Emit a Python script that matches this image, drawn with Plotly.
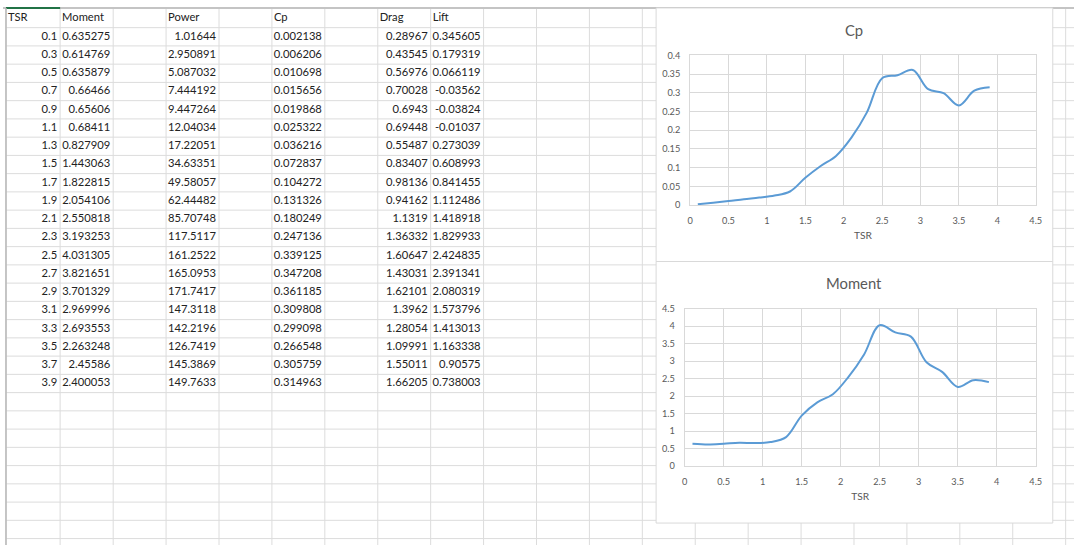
import plotly.graph_objects as go

# ---- data -------------------------------------------------------------
tsr = [0.1, 0.3, 0.5, 0.7, 0.9, 1.1, 1.3, 1.5, 1.7, 1.9,
       2.1, 2.3, 2.5, 2.7, 2.9, 3.1, 3.3, 3.5, 3.7, 3.9]
moment = [0.635275, 0.614769, 0.635879, 0.66466, 0.65606, 0.68411, 0.827909,
          1.443063, 1.822815, 2.054106, 2.550818, 3.193253, 4.031305, 3.821651,
          3.701329, 2.969996, 2.693553, 2.263248, 2.45586, 2.400053]
power = [1.01644, 2.950891, 5.087032, 7.444192, 9.447264, 12.04034, 17.22051,
         34.63351, 49.58057, 62.44482, 85.70748, 117.5117, 161.2522, 165.0953,
         171.7417, 147.3118, 142.2196, 126.7419, 145.3869, 149.7633]
cp = [0.002138, 0.006206, 0.010698, 0.015656, 0.019868, 0.025322, 0.036216,
      0.072837, 0.104272, 0.131326, 0.180249, 0.247136, 0.339125, 0.347208,
      0.361185, 0.309808, 0.299098, 0.266548, 0.305759, 0.314963]
drag = [0.28967, 0.43545, 0.56976, 0.70028, 0.6943, 0.69448, 0.55487, 0.83407,
        0.98136, 0.94162, 1.1319, 1.36332, 1.60647, 1.43031, 1.62101, 1.3962,
        1.28054, 1.09991, 1.55011, 1.66205]
lift = [0.345605, 0.179319, 0.066119, -0.03562, -0.03824, -0.01037, 0.273039,
        0.608993, 0.841455, 1.112486, 1.418918, 1.829933, 2.424835, 2.391341,
        2.080319, 1.573796, 1.413013, 1.163338, 0.90575, 0.738003]
headers = ["TSR", "Moment", "Power", "Cp", "Drag", "Lift"]

# ---- sheet geometry (pixels) ---------------------------------------------
W, H = 1080, 550
col_edges = [3, 57.6] + [111.1 + 53.36 * k for k in range(19)]
row_top, row_h, header_top = 22.1, 18.62, 2
row_edges = [row_top + row_h * k for k in range(29)]
# sheet column index used by each table column
col_index = [0, 1, 3, 5, 7, 8]

FONT = "Lato"
GRID = "#dcdcdc"
BLUE = "#5B9BD5"
GREY_TXT = "#595959"


def fx(x):
    return x / W


def fy(y):
    return 1 - y / H


shapes = []
for x in col_edges:
    shapes.append(dict(type="line", xref="paper", yref="paper", x0=fx(x), x1=fx(x),
                       y0=fy(header_top), y1=0, line=dict(color=GRID, width=1),
                       layer="below"))
for y in row_edges:
    shapes.append(dict(type="line", xref="paper", yref="paper", x0=fx(col_edges[0]), x1=1,
                       y0=fy(y), y1=fy(y), line=dict(color=GRID, width=1),
                       layer="below"))
# sheet top and left borders
shapes.append(dict(type="line", xref="paper", yref="paper", x0=0, x1=1,
                   y0=fy(header_top), y1=fy(header_top),
                   line=dict(color="#c4c4c4", width=2), layer="below"))
shapes.append(dict(type="line", xref="paper", yref="paper",
                   x0=fx(col_edges[0]), x1=fx(col_edges[1]),
                   y0=fy(header_top), y1=fy(header_top),
                   line=dict(color="#217346", width=2), layer="below"))
shapes.append(dict(type="line", xref="paper", yref="paper",
                   x0=fx(col_edges[0]), x1=fx(col_edges[0]), y0=fy(header_top), y1=0,
                   line=dict(color="#b8b8b8", width=1.5), layer="below"))

# chart boxes
chart_boxes = [(658.6, 2, 1058.6, 260.7), (658.6, 260.7, 1058.6, 527.6)]
for (x0, y0, x1, y1) in chart_boxes:
    shapes.append(dict(type="rect", xref="paper", yref="paper",
                       x0=fx(x0), x1=fx(x1), y0=fy(y1), y1=fy(y0),
                       fillcolor="white", line=dict(color="#d9d9d9", width=1),
                       layer="below"))

fig = go.Figure()

# ---- charts ----------------------------------------------------------------
fig.add_trace(go.Scatter(x=tsr, y=cp, mode="lines", xaxis="x", yaxis="y",
                         line=dict(color=BLUE, width=2, shape="spline", smoothing=1),
                         hoverinfo="x+y", showlegend=False))
fig.add_trace(go.Scatter(x=tsr, y=moment, mode="lines", xaxis="x2", yaxis="y2",
                         line=dict(color=BLUE, width=2, shape="spline", smoothing=1),
                         hoverinfo="x+y", showlegend=False))

# ---- table text --------------------------------------------------------------
table_cols = [tsr, moment, power, cp, drag, lift]
for ci, vals in zip(col_index, table_cols):
    right = col_edges[ci + 1] - 3
    ys = [row_top + row_h * (k + 0.5) for k in range(len(vals))]
    fig.add_trace(go.Scatter(x=[right] * len(vals), y=ys, mode="text",
                             text=[str(v) for v in vals], textposition="middle left",
                             textfont=dict(family=FONT, size=11.2, color="#222222"),
                             xaxis="x3", yaxis="y3", hoverinfo="skip", showlegend=False))
hx = [col_edges[ci] + 2 for ci in col_index]
fig.add_trace(go.Scatter(x=hx, y=[(header_top + row_top) / 2 + 0.5] * len(hx),
                         mode="text", text=headers, textposition="middle right",
                         textfont=dict(family=FONT, size=11.2, color="#222222"),
                         xaxis="x3", yaxis="y3", hoverinfo="skip", showlegend=False))

axis_common = dict(showgrid=True, gridcolor="#d9d9d9", gridwidth=1, zeroline=False,
                   showline=True, mirror=True, linecolor="#d9d9d9", linewidth=1,
                   ticks="outside", ticklen=7, tickcolor="rgba(0,0,0,0)",
                   tickfont=dict(family=FONT, size=9.2, color=GREY_TXT), fixedrange=True)
xtitle = dict(text="TSR", font=dict(family=FONT, size=10.2, color=GREY_TXT), standoff=6)

fig.update_layout(
    width=W, height=H, margin=dict(l=0, r=0, t=0, b=0),
    paper_bgcolor="white", plot_bgcolor="rgba(0,0,0,0)",
    shapes=shapes,
    xaxis=dict(domain=[fx(692.9), fx(1041.4)], range=[0, 4.5], dtick=0.5, tick0=0,
               title=xtitle, anchor="y", **axis_common),
    yaxis=dict(domain=[fy(203.1), fy(50.5)], range=[0, 0.4], dtick=0.05, tick0=0,
               anchor="x", **axis_common),
    xaxis2=dict(domain=[fx(687.4), fx(1041.4)], range=[0, 4.5], dtick=0.5, tick0=0,
                title=xtitle, anchor="y2", **axis_common),
    yaxis2=dict(domain=[fy(469.4), fy(308.9)], range=[0, 4.5], dtick=0.5, tick0=0,
                anchor="x2", **axis_common),
    xaxis3=dict(domain=[0, 1], range=[0, W], visible=False, fixedrange=True,
                anchor="y3"),
    yaxis3=dict(domain=[0, 1], range=[H, 0], visible=False, fixedrange=True,
                anchor="x3"),
    annotations=[
        dict(text="Cp", xref="paper", yref="paper", x=fx(858.6), y=fy(25),
             showarrow=False, xanchor="center", yanchor="middle",
             font=dict(family=FONT, size=14.8, color=GREY_TXT)),
        dict(text="Moment", xref="paper", yref="paper", x=fx(858.6), y=fy(282.7),
             showarrow=False, xanchor="center", yanchor="middle",
             font=dict(family=FONT, size=14.8, color=GREY_TXT)),
    ],
)

fig.write_html("out.html")
